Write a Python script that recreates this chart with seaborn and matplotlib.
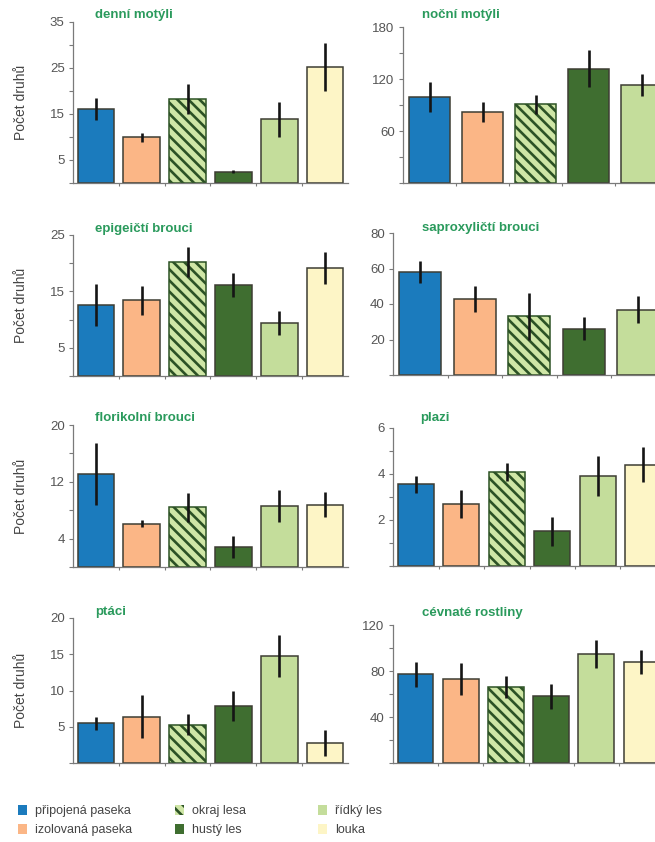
import numpy as np
import pandas as pd
import matplotlib
matplotlib.use("Agg")
import matplotlib.pyplot as plt
import seaborn as sns
from matplotlib.patches import Patch

# ---------------- data ----------------
categories = ["připojená paseka", "izolovaná paseka", "okraj lesa",
              "hustý les", "řídký les", "louka"]
colors = ["#1b7bbd", "#fbb686", "#cfe6a6", "#3f6e30", "#c4dd9b", "#fdf5c6"]
hatch_color = "#2c5225"

titles = ["denní motýli", "noční motýli", "epigeičtí brouci", "saproxyličtí brouci",
          "florikolní brouci", "plazi", "ptáci", "cévnaté rostliny"]

denni_mean = [16.1, 9.9, 18.3, 2.5, 13.9, 25.2]
denni_err = [2.4, 0.9, 3.3, 0.3, 3.8, 5.2]
nocni_mean = [99, 82, 91, 132, 113, 105]       # last bar lies outside the cropped view
nocni_err = [17, 12, 11, 21, 13, 12]
epig_mean = [12.6, 13.4, 20.2, 16.1, 9.4, 19.2]
epig_err = [3.7, 2.6, 2.6, 2.1, 2.2, 2.8]
sapro_mean = [58, 42.8, 33, 26, 36.8, 30]      # last bar lies outside the cropped view
sapro_err = [6.2, 7.5, 13, 6.5, 7.6, 6]
flori_mean = [13.1, 6.1, 8.4, 2.8, 8.6, 8.8]
flori_err = [4.3, 0.5, 2.0, 1.5, 2.3, 1.8]
plazi_mean = [3.55, 2.69, 4.08, 1.51, 3.92, 4.4]
plazi_err = [0.38, 0.6, 0.4, 0.63, 0.87, 0.76]
ptaci_mean = [5.5, 6.4, 5.3, 7.9, 14.7, 2.8]
ptaci_err = [0.9, 3.0, 1.5, 2.1, 2.9, 1.8]
cevnate_mean = [77, 73, 66, 58, 95, 88]
cevnate_err = [10.5, 13.8, 9.5, 11, 12.3, 10.5]

ylims = [35, 180, 25, 80, 20, 6, 20, 120]
major_ticks = [[5, 15, 25, 35], [60, 120, 180], [5, 15, 25], [20, 40, 60, 80],
               [4, 12, 20], [2, 4, 6], [5, 10, 15, 20], [40, 80, 120]]
minor_ticks = [[0, 10, 20, 30], [0, 30, 90, 150], [0, 10, 20], [0],
               [0, 8, 16], [0, 1, 3, 5], [0], [0, 20, 60, 100]]
ylabel = "Počet druhů"

means = [denni_mean, nocni_mean, epig_mean, sapro_mean,
         flori_mean, plazi_mean, ptaci_mean, cevnate_mean]
errs = [denni_err, nocni_err, epig_err, sapro_err,
        flori_err, plazi_err, ptaci_err, cevnate_err]

# ---------------- layout (pixels) ----------------
W, H = 655, 842
# x0, x1, ytop, ybottom
boxes = [(73, 348, 22, 183), (403, 721, 27, 183),
         (73, 348, 235, 376), (393, 720, 233, 375),
         (73, 348, 425, 567), (393, 666, 428, 566),
         (73, 348, 618, 763), (393, 664, 625, 763)]
bar_widths = [0.8, 0.76, 0.8, 0.77, 0.8, 0.79, 0.8, 0.79]
title_pos = [(95, 15), (422, 15), (95, 229), (422, 228),
             (95, 418), (420, 418), (95, 612), (422, 613)]

sns.set_style("ticks")
plt.rcParams["font.family"] = ["Liberation Sans", "DejaVu Sans"]
plt.rcParams["hatch.linewidth"] = 1.9

fig = plt.figure(figsize=(W / 100, H / 100), dpi=100)
fig.patch.set_facecolor("white")

palette = dict(zip(categories, colors))
spine_col = "#7a7a7a"
title_col = "#2a9a5c"

for i in range(8):
    x0, x1, yt, yb = boxes[i]
    ax = fig.add_axes([x0 / W, 1 - yb / H, (x1 - x0) / W, (yb - yt) / H])
    df = pd.DataFrame({"stanoviště": categories, "druhy": means[i], "se": errs[i]})
    sns.barplot(data=df, x="stanoviště", y="druhy", hue="stanoviště",
                order=categories, hue_order=categories, palette=palette,
                legend=False, errorbar=None, width=bar_widths[i],
                edgecolor="#3d3d33", linewidth=1.1, saturation=1, ax=ax)
    bars = sorted(ax.patches, key=lambda p: p.get_x())
    bars[2].set_hatch("\\\\\\")
    bars[2].set_edgecolor(hatch_color)
    ax.errorbar(np.arange(len(categories)), df["druhy"], yerr=df["se"],
                fmt="none", ecolor="#151515", elinewidth=1.9, capsize=0, zorder=5)
    ax.set_xlim(-0.5, 5.5)
    ax.set_ylim(0, ylims[i])
    ax.set_yticks(major_ticks[i])
    ax.set_yticks(minor_ticks[i], minor=True)
    ax.set_xticks(np.arange(0.5, 5.5, 1))
    ax.set_xticklabels([])
    ax.set_xlabel("")
    ax.tick_params(axis="y", which="both", direction="out", length=3, width=0.8,
                   color=spine_col, labelsize=9.5, labelcolor="#555555", pad=3)
    ax.tick_params(axis="x", which="both", direction="out", length=2.5, width=0.8,
                   color=spine_col)
    for s in ["top", "right"]:
        ax.spines[s].set_visible(False)
    for s in ["left", "bottom"]:
        ax.spines[s].set_color(spine_col)
        ax.spines[s].set_linewidth(0.9)
    ax.set_facecolor("none")
    if i % 2 == 0:
        ax.set_ylabel(ylabel, fontsize=10, color="#444444")
        ax.yaxis.set_label_coords(-(x0 - 28) / (x1 - x0), 0.5)
    else:
        ax.set_ylabel("")
    tx, ty = title_pos[i]
    fig.text(tx / W, 1 - ty / H, titles[i], color=title_col, fontsize=9.5,
             fontweight="bold", ha="left", va="center")

# ---------------- legend ----------------
handles = []
for c, col in zip(categories, colors):
    if c == "okraj lesa":
        handles.append(Patch(facecolor=col, edgecolor=hatch_color, hatch="\\\\\\",
                             linewidth=0, label=c))
    else:
        handles.append(Patch(facecolor=col, edgecolor="none", label=c))

leg_x = [18, 175, 318]
for k in range(3):
    fig.legend(handles=handles[2 * k:2 * k + 2], loc="upper left",
               bbox_to_anchor=(leg_x[k] / W, 1 - 805 / H), frameon=False,
               fontsize=9, handlelength=0.7, handleheight=0.8,
               handletextpad=0.65, labelspacing=0.55, borderpad=0,
               borderaxespad=0, labelcolor="#444444")

fig.savefig("out.png", dpi=100, facecolor="white")
